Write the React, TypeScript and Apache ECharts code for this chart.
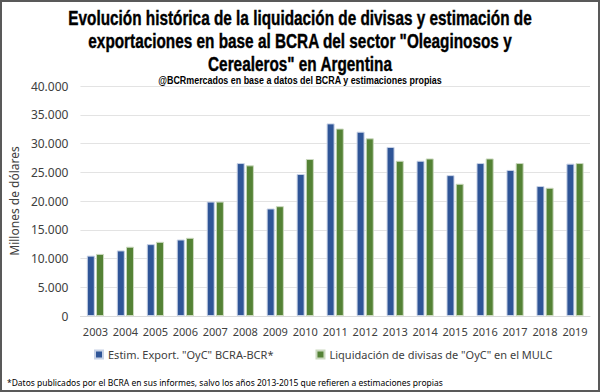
import React, { useEffect, useRef } from "react";
import * as echarts from "echarts";

const years = ["2003", "2004", "2005", "2006", "2007", "2008", "2009", "2010", "2011", "2012", "2013", "2014", "2015", "2016", "2017", "2018", "2019"];
const estimExport = [10500, 11400, 12500, 13300, 19900, 26600, 18700, 24700, 33500, 32050, 29400, 27000, 24500, 26600, 25400, 22600, 26500];
const liquidacion = [10800, 12050, 12900, 13600, 19900, 26200, 19100, 27300, 32600, 30900, 27000, 27400, 23000, 27400, 26600, 22300, 26600];
const seriesNames = ['Estim. Export. "OyC" BCRA-BCR*', 'Liquidación de divisas de "OyC" en el MULC'];
const titleLines = [
  "Evolución histórica de la liquidación de divisas y estimación de",
  'exportaciones en base al BCRA del sector "Oleaginosos y',
  'Cerealeros" en Argentina',
];
const subtitle = "@BCRmercados en base a datos del BCRA y estimaciones propias";
const footnote = "*Datos publicados por el BCRA en sus informes, salvo los años 2013-2015 que refieren a estimaciones propias";
const yAxisName = "Millones de dólares";

function measure(text: string, font: string): number {
  const c = document.createElement("canvas").getContext("2d");
  if (!c) return text.length * 7;
  c.font = font;
  return c.measureText(text).width;
}

export default function App() {
  const ref = useRef<HTMLDivElement>(null);
  useEffect(() => {
    document.body.style.margin = "0";
    if (!ref.current) return;
    const chart = echarts.init(ref.current, undefined, { renderer: "svg" });

    const titleFont = 'bold 20px "Liberation Sans"';
    const titleScale = 464 / measure(titleLines[0], titleFont);
    const subFont = 'bold 11px "Liberation Sans"';
    const subScale = 284 / measure(subtitle, subFont);
    const footBase = 9;
    const footSize = footBase * 436 / measure(footnote, `${footBase}px "Noto Sans"`);

    const titleY = [18, 41, 64];
    const graphics: any[] = titleLines.map((t, i) => ({
      type: "text",
      x: 300,
      y: titleY[i],
      scaleX: titleScale,
      style: {
        text: t,
        fontFamily: "Liberation Sans",
        fontSize: 20,
        fontWeight: "bold",
        fill: "#000",
        stroke: "#000",
        lineWidth: 0.4,
        textAlign: "center",
        textVerticalAlign: "middle",
      },
    }));
    graphics.push({
      type: "text",
      x: 300,
      y: 80,
      scaleX: subScale,
      style: {
        text: subtitle,
        fontFamily: "Liberation Sans",
        fontSize: 11,
        fontWeight: "bold",
        fill: "#000",
        textAlign: "center",
        textVerticalAlign: "middle",
      },
    });
    graphics.push({
      type: "text",
      x: 7,
      y: 382,
      style: {
        text: footnote,
        fontFamily: "Noto Sans",
        fontSize: footSize,
        fill: "#000",
        textAlign: "left",
        textVerticalAlign: "middle",
      },
    });

    chart.setOption({
      animation: false,
      backgroundColor: "#fff",
      textStyle: { fontFamily: "Noto Sans" },
      grid: { left: 77, right: 10, top: 86, bottom: 76, containLabel: false },
      legend: {
        data: seriesNames,
        left: 89,
        top: 344,
        icon: "rect",
        itemWidth: 8,
        itemHeight: 8,
        itemGap: 42,
        textStyle: { fontSize: 11, color: "#404040", fontFamily: "Noto Sans" },
      },
      xAxis: {
        type: "category",
        data: years,
        axisTick: { show: false },
        axisLine: { lineStyle: { color: "#d9d9d9" } },
        axisLabel: { color: "#404040", fontSize: 11, margin: 10, interval: 0 },
      },
      yAxis: {
        type: "value",
        min: 0,
        max: 40000,
        interval: 5000,
        name: yAxisName,
        nameLocation: "middle",
        nameGap: 44,
        nameTextStyle: { fontSize: 12, color: "#404040", fontFamily: "Noto Sans" },
        axisLine: { show: false },
        axisTick: { show: false },
        splitLine: { lineStyle: { color: "#e3e3e3", width: 1 } },
        axisLabel: {
          color: "#404040",
          fontSize: 12,
          margin: 12,
          formatter: (v: number) => (v === 0 ? "0" : v.toLocaleString("de-DE")),
        },
      },
      series: [
        {
          name: seriesNames[0],
          type: "bar",
          data: estimExport,
          barWidth: 8,
          barGap: "15%",
          itemStyle: { color: "#2F5597", borderColor: "#c8d2e6", borderWidth: 1 },
        },
        {
          name: seriesNames[1],
          type: "bar",
          data: liquidacion,
          barWidth: 8,
          itemStyle: { color: "#548235", borderColor: "#cbd9bf", borderWidth: 1 },
        },
      ],
      graphic: graphics,
    });
    return () => chart.dispose();
  }, []);

  return (
    <div style={{ position: "relative", width: 600, height: 392 }}>
      <div ref={ref} style={{ width: 600, height: 392 }} />
      <div
        style={{
          position: "absolute",
          left: 0,
          top: 0,
          width: 600,
          height: 392,
          boxSizing: "border-box",
          border: "2px solid #595959",
          pointerEvents: "none",
        }}
      />
    </div>
  );
}
